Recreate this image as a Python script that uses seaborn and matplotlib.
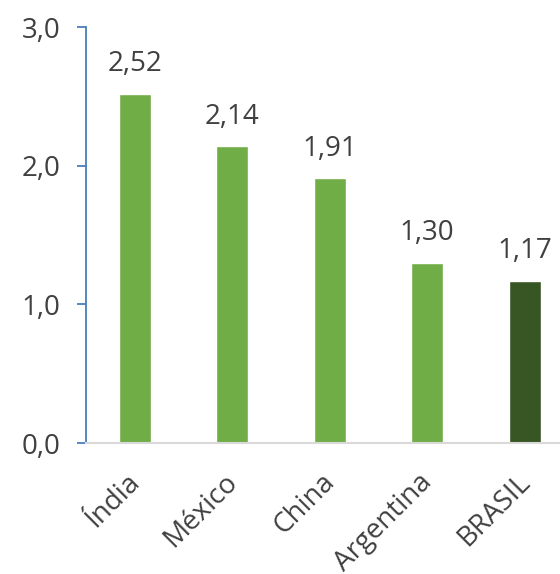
import matplotlib
matplotlib.use("Agg")
import matplotlib.pyplot as plt
import matplotlib.transforms as mtransforms
import seaborn as sns
import pandas as pd

countries = ["Índia", "México", "China", "Argentina", "BRASIL"]
values = [2.52, 2.14, 1.91, 1.30, 1.17]
bar_colors = ["#70AD47", "#70AD47", "#70AD47", "#70AD47", "#375623"]
y_ticks = [0.0, 1.0, 2.0, 3.0]

sns.set_theme(style="white")
plt.rcParams["font.family"] = ["Open Sans", "DejaVu Sans"]

text_color = "#404040"
fs = 20
df = pd.DataFrame({"pais": countries, "valor": values})

fig = plt.figure(figsize=(5.6, 5.74), dpi=100)
W, H = 560, 574
left, right, top, bottom = 86, 560, 27, 443
ax = fig.add_axes([left / W, (H - bottom) / H, (right - left) / W, (bottom - top) / H])

sns.barplot(data=df, x="pais", y="valor", hue="pais", palette=bar_colors,
            width=0.33, legend=False, ax=ax, saturation=1)

ax.set_xlim(-0.5, -0.5 + (right - left) / 97.5)
ax.set_ylim(0, 3.0)
ax.set_yticks(y_ticks)
ax.set_yticklabels([f"{t:.1f}".replace(".", ",") for t in y_ticks])
ax.set_xlabel("")
ax.set_ylabel("")

for i, v in enumerate(values):
    ax.annotate(f"{v:.2f}".replace(".", ","), (i, v), xytext=(0, 11),
                textcoords="offset points", ha="center", va="bottom",
                fontsize=fs, color=text_color)

for s in ["top", "right"]:
    ax.spines[s].set_visible(False)
ax.spines["left"].set_color("#4A7EBB")
ax.spines["left"].set_linewidth(1.3)
ax.spines["bottom"].set_color("#D9D9D9")
ax.spines["bottom"].set_linewidth(1.5)

ax.tick_params(axis="y", which="major", left=True, length=6.5, width=1.3,
               color="#4A7EBB", pad=12, labelsize=fs, labelcolor=text_color)
ax.tick_params(axis="x", bottom=False, labelsize=fs, labelcolor=text_color, pad=12)
shift = mtransforms.ScaledTranslation(-6.5 / 72, 0, fig.dpi_scale_trans)
for lab in ax.get_xticklabels():
    lab.set_rotation(45)
    lab.set_ha("right")
    lab.set_va("top")
    lab.set_rotation_mode("anchor")
    lab.set_transform(lab.get_transform() + shift)

fig.savefig("out.png", dpi=100)
